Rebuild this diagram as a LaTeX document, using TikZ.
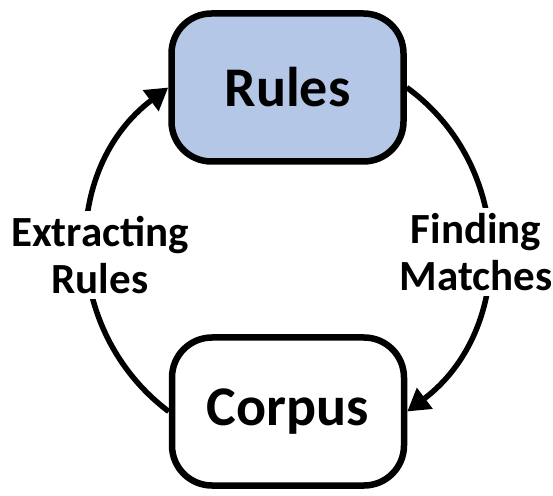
\documentclass[tikz,border=0pt]{standalone}
\usepackage{fontspec}
\setmainfont{Carlito}
\usetikzlibrary{arrows.meta}
\definecolor{rulesblue}{HTML}{B4C7E7}
\begin{document}
\begin{tikzpicture}[x=1pt,y=1pt,
  stage/.style={draw=black, line width=6.5pt, rounded corners=40pt,
    minimum width=232pt, minimum height=148pt, font=\fontsize{56}{64}\selectfont\bfseries},
  flow/.style={line width=5.5pt, -{Triangle[length=22pt,width=25pt]}},
  steplabel/.style={fill=white, inner sep=5pt, align=center,
    font=\fontsize{43}{47}\selectfont\bfseries}]
  \useasboundingbox (0,0) rectangle (553,495);
  % the two stages of the cycle
  \node[stage, fill=rulesblue] (rules) at (287.5,407.5) {Rules};
  \node[stage, fill=white] (corpus) at (288,83.5) {Corpus};
  % circular connectors
  \draw[flow] (rules.east) to[out=-36,in=37,looseness=1.07] (corpus.east);
  \draw[flow] (corpus.west) to[out=143,in=217,looseness=1.07] (rules.west);
  % step labels
  \node[steplabel] (extract) at (100,240) {Extracting\\Rules};
  \node[steplabel] (match) at (476,243) {Finding\\Matches};
\end{tikzpicture}
\end{document}
